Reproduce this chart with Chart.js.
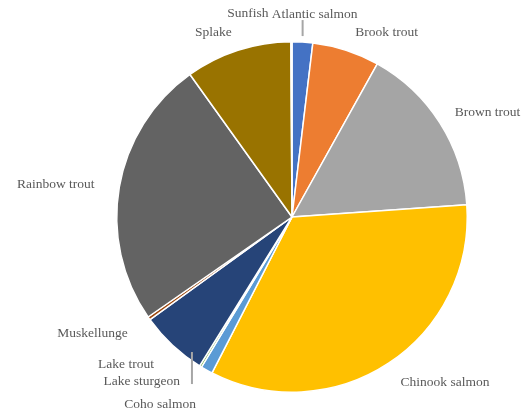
<!DOCTYPE html>
<html>
<head>
<meta charset="utf-8">
<script src="https://cdn.jsdelivr.net/npm/chart.js@4"></script>
<style>
  html, body { margin: 0; padding: 0; background: #fff; }
  #wrap { width: 527px; height: 414px; }
</style>
</head>
<body>
<div id="wrap"><canvas id="fishChart"></canvas></div>
<script>
// Fish species share (percent)
const species = ['Atlantic salmon', 'Brook trout', 'Brown trout', 'Chinook salmon', 'Coho salmon',
  'Lake sturgeon', 'Lake trout', 'Muskellunge', 'Rainbow trout', 'Splake', 'Sunfish'];
const shares = [1.9, 6.2, 15.8, 33.7, 1.1, 0.2, 6.2, 0.3, 24.8, 9.8, 0.1];
const sliceColors = ['#4472C4', '#ED7D31', '#A5A5A5', '#FFC000', '#5B9BD5',
  '#70AD47', '#264478', '#9E480E', '#636363', '#997300', '#255E91'];

// label tweaks (align, nudge) per slice, Excel-ish placement
// leader: [dx, top, bottom] relative to the slice's outer edge point
const labelTweaks = {
  'Atlantic salmon': { align: 'left', dx: -32, dy: -8, leader: [0, -19, -3] },
  'Brook trout': { align: 'left', dx: 3, dy: 1 },
  'Brown trout': { align: 'left', dx: -2, dy: 0 },
  'Chinook salmon': { align: 'left', dx: 1, dy: 3 },
  'Coho salmon': { align: 'right', dx: -1, dy: 17 },
  'Lake sturgeon': { align: 'right', dx: -10, dy: -2, leader: [-7, -17, 15] },
  'Lake trout': { align: 'right', dx: -5, dy: 5 },
  'Muskellunge': { align: 'right', dx: -5, dy: 4 },
  'Rainbow trout': { align: 'right', dx: -5, dy: 1 },
  'Splake': { align: 'right', dx: 0, dy: 1 },
  'Sunfish': { align: 'right', dx: -23, dy: -8 }
};

const outsideLabels = {
  id: 'outsideLabels',
  afterDraw(chart) {
    const ctx = chart.ctx;
    const meta = chart.getDatasetMeta(0);
    ctx.save();
    ctx.font = '13.5px "Liberation Serif", "Times New Roman", serif';
    ctx.fillStyle = '#595959';
    ctx.textBaseline = 'middle';
    meta.data.forEach((arc, i) => {
      const name = chart.data.labels[i];
      const t = labelTweaks[name] || { align: 'left', dx: 0, dy: 0 };
      const mid = (arc.startAngle + arc.endAngle) / 2;
      const R = arc.outerRadius + 20;
      const ax = arc.x + Math.cos(mid) * R;
      const ay = arc.y + Math.sin(mid) * R;
      if (t.leader) {
        const ex = arc.x + Math.cos(mid) * (arc.outerRadius + 3);
        const ey = arc.y + Math.sin(mid) * (arc.outerRadius + 3);
        ctx.strokeStyle = '#A6A6A6';
        ctx.lineWidth = 2;
        ctx.beginPath();
        ctx.moveTo(ex + t.leader[0], ey + t.leader[1]);
        ctx.lineTo(ex + t.leader[0], ey + t.leader[2]);
        ctx.stroke();
      }
      ctx.textAlign = t.align;
      ctx.fillText(name, ax + t.dx, ay + t.dy);
    });
    ctx.restore();
  }
};

new Chart(document.getElementById('fishChart'), {
  type: 'pie',
  data: {
    labels: species,
    datasets: [{
      data: shares,
      backgroundColor: sliceColors,
      borderColor: '#ffffff',
      borderWidth: 1.5
    }]
  },
  options: {
    responsive: true,
    maintainAspectRatio: false,
    animation: false,
    layout: { padding: { left: 116, right: 59, top: 41, bottom: 21 } },
    plugins: {
      legend: { display: false },
      tooltip: { enabled: false }
    }
  },
  plugins: [outsideLabels]
});
</script>
</body>
</html>
